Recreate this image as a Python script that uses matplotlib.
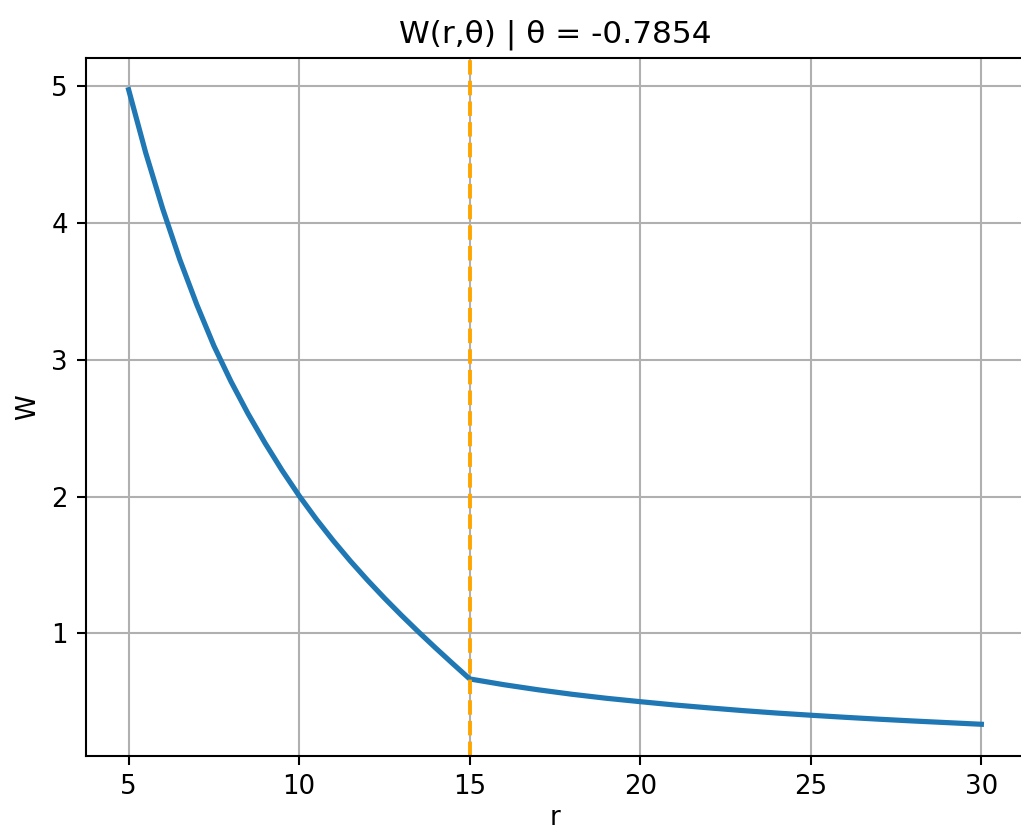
import matplotlib.pyplot as plt
import numpy as np

# values
r = [5.0, 5.5, 6.0, 6.5, 7.0, 7.5, 8.0, 8.5, 9.0, 9.5, 10.0,
     10.5, 11.0, 11.5, 12.0, 12.5, 13.0, 13.5, 14.0, 14.5, 15.0,
     16, 17, 18, 19, 20, 21, 22, 23, 24, 25, 26, 27, 28, 29, 30]
W = [4.970, 4.510, 4.100, 3.730, 3.400, 3.100, 2.840, 2.605, 2.390, 2.190, 2.005,
     1.835, 1.677, 1.529, 1.390, 1.258, 1.132, 1.011, 0.894, 0.780, 0.668,
     0.626, 0.589, 0.556, 0.527, 0.502, 0.478, 0.457, 0.437, 0.419, 0.403,
     0.388, 0.374, 0.361, 0.349, 0.337]
r_split = 15
theta = -0.7854

dpi = 187
fig = plt.figure(figsize=(1021 / dpi, 832 / dpi), dpi=dpi)
ax = fig.add_axes([86 / 1021, 1 - 756 / 832, (1024 - 86) / 1021, (756 - 58) / 832])

ax.plot(r, W, color='tab:blue', linewidth=2)
ax.axvline(r_split, color='orange', linestyle='--')
ax.set_title(f"W(r,θ) | θ = {theta}")
ax.set_xlabel("r", labelpad=2)
ax.set_ylabel("W")
ax.grid(True)

fig.savefig("out.png", dpi=dpi)
